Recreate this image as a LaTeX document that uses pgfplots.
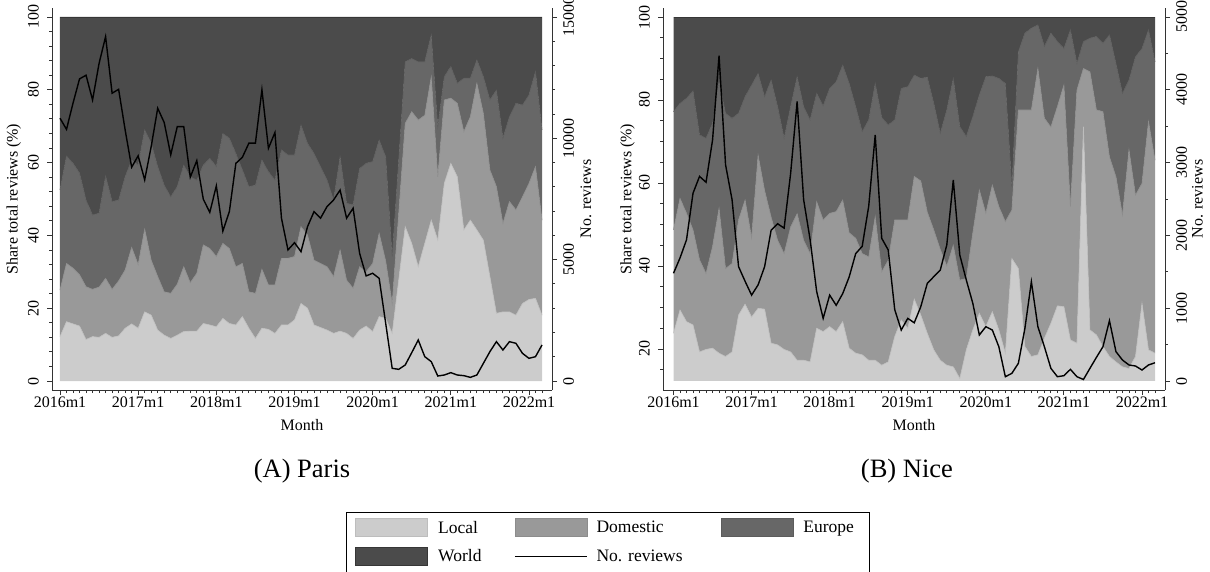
\documentclass[border=0pt]{standalone}
\usepackage{fontspec}
\setmainfont{Liberation Serif}
\usepackage{pgfplots}
\pgfplotsset{compat=1.18}
\usepackage{pgfplotstable}
\usepgfplotslibrary{fillbetween}

\definecolor{localc}{HTML}{CCCCCC}
\definecolor{localline}{HTML}{BDBDBD}
\definecolor{domc}{HTML}{999999}
\definecolor{domline}{HTML}{8C8C8C}
\definecolor{eurc}{HTML}{676767}
\definecolor{eurline}{HTML}{5C5C5C}
\definecolor{worldc}{HTML}{4B4B4B}
\definecolor{worldline}{HTML}{363636}
\definecolor{axc}{HTML}{333333}

\newcommand\ft{\fontsize{16}{19}\selectfont}

% cumulative shares (%) : loc = Local, dom = Local+Domestic, eur = Local+Domestic+Europe ; n = no. reviews
\pgfplotstableread{
m loc dom eur n
0 12.2 25.0 52.5 10830
1 16.3 32.3 61.8 10370
2 15.7 31.0 59.8 11450
3 15.1 29.2 57.1 12450
4 11.4 25.9 49.7 12600
5 12.2 25.2 45.6 11580
6 12.0 25.8 46.1 13090
7 13.1 28.2 56.3 14190
8 12.0 25.2 49.3 11860
9 12.4 27.5 49.7 12020
10 14.5 30.5 56.1 10350
11 15.7 36.7 60.7 8810
12 14.5 32.0 59.3 9280
13 19.0 41.7 69.0 8290
14 18.1 33.2 65.3 9660
15 14.0 28.7 58.9 11240
16 12.6 24.5 53.8 10650
17 11.7 24.1 50.6 9320
18 12.6 26.6 53.4 10480
19 13.6 31.4 59.3 10480
20 13.7 27.0 56.1 8400
21 13.7 29.6 55.2 9080
22 15.8 37.4 59.3 7490
23 15.4 36.4 61.2 6950
24 14.9 34.2 58.9 8040
25 17.2 37.8 68.0 6180
26 15.8 36.4 66.7 6980
27 15.4 31.4 62.5 8970
28 17.7 32.3 58.0 9220
29 14.5 24.5 53.4 9800
30 11.7 24.1 53.8 9800
31 14.5 30.7 60.7 12000
32 14.2 26.4 57.5 9590
33 13.1 26.4 55.2 10240
34 15.4 33.7 63.5 6710
35 15.4 33.7 62.1 5400
36 16.8 34.2 62.1 5700
37 21.3 42.4 70.3 5330
38 20.0 40.1 65.3 6360
39 15.4 33.2 62.5 6980
40 14.7 32.3 58.9 6710
41 14.0 31.4 55.2 7190
42 13.1 28.7 49.7 7460
43 13.7 36.0 61.6 7870
44 13.1 27.7 48.8 6710
45 11.7 25.5 48.4 7120
46 14.0 31.4 58.4 5260
47 15.1 30.0 59.8 4330
48 13.6 32.3 60.3 4440
49 17.7 40.6 66.2 4230
50 17.2 33.0 61.6 2380
51 13.1 21.3 34.2 522
52 27.7 46.0 60.7 481
53 42.4 70.8 87.7 660
54 37.8 74.0 88.6 1168
55 31.4 71.7 87.7 1690
56 37.8 73.0 87.7 1003
57 44.2 83.6 95.1 797
58 38.7 56.1 69.9 206
59 54.3 77.2 83.6 247
60 59.8 77.7 86.4 344
61 56.1 76.3 81.8 247
62 41.5 68.5 83.2 220
63 44.2 72.6 83.2 151
64 41.5 81.8 88.2 247
65 38.7 73.5 83.6 728
66 28.7 58.0 77.2 1209
67 18.6 53.4 79.9 1621
68 19.0 43.3 66.7 1278
69 19.0 49.3 72.6 1621
70 18.1 47.0 76.3 1553
71 21.3 50.6 75.8 1140
72 22.4 54.3 78.6 934
73 22.7 58.9 85.0 1003
74 18.1 44.2 69.0 1484
}\paris

\pgfplotstableread{
m loc dom eur n
0 23.8 48.7 77.2 1480
1 29.4 56.3 79.2 1690
2 26.6 52.7 80.4 1940
3 25.8 48.7 82.2 2580
4 19.3 41.5 71.6 2810
5 19.9 38.2 70.8 2730
6 20.2 44.7 74.4 3310
7 19.0 53.9 84.4 4470
8 18.2 39.4 76.8 2970
9 19.3 40.6 75.6 2490
10 28.2 51.1 76.8 1570
11 30.8 55.9 80.8 1370
12 27.7 46.8 83.6 1180
13 29.8 66.7 86.4 1320
14 29.6 58.2 80.8 1570
15 21.4 51.8 84.8 2070
16 21.0 46.2 78.4 2160
17 19.9 43.0 70.8 2100
18 19.3 49.4 78.4 2850
19 17.3 52.6 85.6 3840
20 17.3 46.2 78.4 2490
21 16.9 43.0 75.2 1940
22 25.0 55.5 81.6 1230
23 24.2 51.1 78.6 860
24 25.4 52.7 82.8 1180
25 24.2 53.1 84.4 1040
26 26.6 55.9 88.4 1200
27 20.2 48.0 84.0 1430
28 19.0 46.7 78.4 1750
29 18.6 43.0 72.4 1850
30 17.3 42.2 75.2 2400
31 17.3 51.9 84.0 3380
32 16.1 38.6 75.8 1960
33 16.9 41.4 74.0 1800
34 23.0 51.1 75.2 980
35 27.0 51.1 82.8 700
36 25.0 51.1 83.2 860
37 32.0 61.6 86.0 800
38 28.2 60.5 85.2 1020
39 23.8 53.0 85.5 1340
40 19.8 48.7 79.2 1433
41 17.3 44.0 72.0 1525
42 16.1 40.0 77.6 1868
43 15.7 45.0 85.2 2761
44 12.9 36.6 73.6 1731
45 19.8 37.0 71.2 1387
46 24.6 48.0 76.0 1067
47 28.6 58.3 81.2 632
48 25.4 52.7 85.6 746
49 29.0 59.5 85.8 700
50 24.6 54.3 85.2 471
51 19.0 50.7 84.0 59
52 41.8 53.5 59.1 105
53 39.4 77.6 91.6 243
54 20.6 77.6 96.1 720
55 18.2 77.6 97.3 1364
56 18.6 87.6 98.1 746
57 22.6 75.6 92.9 471
58 26.2 73.5 96.1 174
59 30.4 78.4 94.1 59
60 30.2 83.6 92.4 73
61 22.2 54.3 96.9 160
62 21.4 82.4 88.8 59
63 73.6 87.6 94.1 21
64 24.6 86.8 94.9 174
65 23.4 77.6 95.3 325
66 20.6 77.2 93.7 471
67 18.2 66.3 95.7 828
68 16.9 61.5 88.8 403
69 15.7 52.3 81.6 288
70 15.3 68.0 84.8 220
71 18.2 57.1 90.4 206
72 31.0 59.9 92.4 151
73 19.8 74.8 96.9 220
74 19.0 65.5 89.2 251
}\nice

\pgfplotsset{
  common/.style={
    scale only axis, height=382pt, anchor=south west,
    tick align=outside, major tick length=5pt, minor tick length=3pt,
    every tick/.style={axc, line width=0.9pt},
    axis line style={axc, line width=1pt},
    tick label style={font=\ft, /pgf/number format/assume math mode=true, /pgf/number format/1000 sep={}},
    label style={font=\ft},
    scaled y ticks=false,
  },
  areaaxis/.style={
    common,
    axis x line*=bottom, axis y line*=left,
    xtick={0,12,...,72},
    xticklabels={2016m1,2017m1,2018m1,2019m1,2020m1,2021m1,2022m1},
    minor xtick={0,1,...,74},
    xticklabel style={anchor=north, inner sep=0pt},
    yticklabel style={rotate=90, anchor=south, inner sep=0pt},
    xticklabel shift=2pt, yticklabel shift=8pt,
    xlabel={Month},
    xlabel style={at={(axis description cs:0.5,-0.0916)}, anchor=center},
    title style={font=\fontsize{26.5}{31}\selectfont, anchor=center},
  },
  lineaxis/.style={
    common,
    axis x line=none, axis y line*=right,
    yticklabel style={rotate=90, anchor=north, inner sep=0pt},
    yticklabel shift=6pt,
    ylabel={No. reviews},
  },
  arealeg/.style={legend image code/.code={\draw[##1, line width=0.8pt] (0pt,-9pt) rectangle (72pt,9pt);}},
  lineleg/.style={legend image code/.code={\draw[##1] (0pt,0pt) -- (72pt,0pt);}},
}

\begin{document}
\begin{tikzpicture}

% ---------------- Paris: shares ----------------
\begin{axis}[areaaxis, at={(52pt,181pt)}, width=500pt,
  xmin=-1.228, xmax=75.535, ymin=-2.4725, ymax=102.4725,
  ytick={0,20,...,100}, minor ytick={0,4,...,100},
  ylabel={Share total reviews (\%)},
  ylabel style={at={(axis description cs:-0.0764,0.5)}, anchor=center},
  title={(A) Paris}, title style={at={(axis description cs:0.5,-0.229)}},
]
\addplot[name path=ptop, draw=worldline, line width=0.8pt, forget plot] coordinates {(0,100) (74,100)};
\addplot[name path=pbase, draw=none, forget plot] coordinates {(0,0) (74,0)};
\addplot[name path=peur, draw=eurline, line width=0.6pt, forget plot] table[x=m,y=eur]{\paris};
\addplot[name path=pdom, draw=domline, line width=0.6pt, forget plot] table[x=m,y=dom]{\paris};
\addplot[name path=ploc, draw=localline, line width=0.6pt, forget plot] table[x=m,y=loc]{\paris};
\addplot[worldc, forget plot] fill between[of=ptop and peur];
\addplot[eurc, forget plot] fill between[of=peur and pdom];
\addplot[domc, forget plot] fill between[of=pdom and ploc];
\addplot[localc, forget plot] fill between[of=ploc and pbase];
\end{axis}

% ---------------- Paris: reviews ----------------
\begin{axis}[lineaxis, at={(52pt,181pt)}, width=500pt,
  xmin=-1.228, xmax=75.535, ymin=-370.9, ymax=15370.9,
  ytick={0,5000,10000,15000}, minor ytick={0,1000,...,15000},
  ylabel style={at={(axis description cs:1.068,0.5)}, anchor=center},
  legend columns=3, legend cell align=left,
  legend style={at={(0.588,-0.3194)}, anchor=north west, draw=black, line width=0.8pt,
    fill=white, inner xsep=9pt, inner ysep=6pt, row sep=10pt, column sep=0pt,
    font=\fontsize{17.5}{20}\selectfont, nodes={inner sep=0pt, anchor=west}},
]
\addlegendimage{arealeg, fill=localc, draw=localline}
\addlegendentry{\hspace*{10pt}\makebox[76pt][l]{Local}}
\addlegendimage{arealeg, fill=domc, draw=domline}
\addlegendentry{\hspace*{9pt}\makebox[124pt][l]{Domestic}}
\addlegendimage{arealeg, fill=eurc, draw=eurline}
\addlegendentry{\hspace*{10pt}\makebox[57pt][l]{Europe}}
\addlegendimage{arealeg, fill=worldc, draw=worldline}
\addlegendentry{\hspace*{10pt}\makebox[76pt][l]{World}}
\addplot[black, line width=1.4pt, lineleg] table[x=m,y=n]{\paris};
\addlegendentry{\hspace*{9pt}\makebox[124pt][l]{No. reviews}}
\end{axis}

% ---------------- Nice: shares ----------------
\begin{axis}[areaaxis, at={(663pt,181pt)}, width=502pt,
  xmin=-1.614, xmax=75.537, ymin=10.12, ymax=102.169,
  ytick={20,40,...,100}, minor ytick={15,20,...,100},
  ylabel={Share total reviews (\%)},
  ylabel style={at={(axis description cs:-0.0707,0.5)}, anchor=center},
  title={(B) Nice}, title style={at={(axis description cs:0.486,-0.229)}},
]
\addplot[name path=ntop, draw=worldline, line width=0.8pt, forget plot] coordinates {(0,100) (74,100)};
\addplot[name path=nbase, draw=none, forget plot] coordinates {(0,12.289) (74,12.289)};
\addplot[name path=neur, draw=eurline, line width=0.6pt, forget plot] table[x=m,y=eur]{\nice};
\addplot[name path=ndom, draw=domline, line width=0.6pt, forget plot] table[x=m,y=dom]{\nice};
\addplot[name path=nloc, draw=localline, line width=0.6pt, forget plot] table[x=m,y=loc]{\nice};
\addplot[worldc, forget plot] fill between[of=ntop and neur];
\addplot[eurc, forget plot] fill between[of=neur and ndom];
\addplot[domc, forget plot] fill between[of=ndom and nloc];
\addplot[localc, forget plot] fill between[of=nloc and nbase];
\end{axis}

% ---------------- Nice: reviews ----------------
\begin{axis}[lineaxis, at={(663pt,181pt)}, width=502pt,
  xmin=-1.614, xmax=75.537, ymin=-123.6, ymax=5123.6,
  ytick={0,1000,...,5000}, minor ytick={0,500,...,5000},
  ylabel style={at={(axis description cs:1.0647,0.5)}, anchor=center},
]
\addplot[black, line width=1.4pt] table[x=m,y=n]{\nice};
\end{axis}

\pgfresetboundingbox
\useasboundingbox (0pt,0pt) rectangle (1210pt,571pt);
\end{tikzpicture}
\end{document}
